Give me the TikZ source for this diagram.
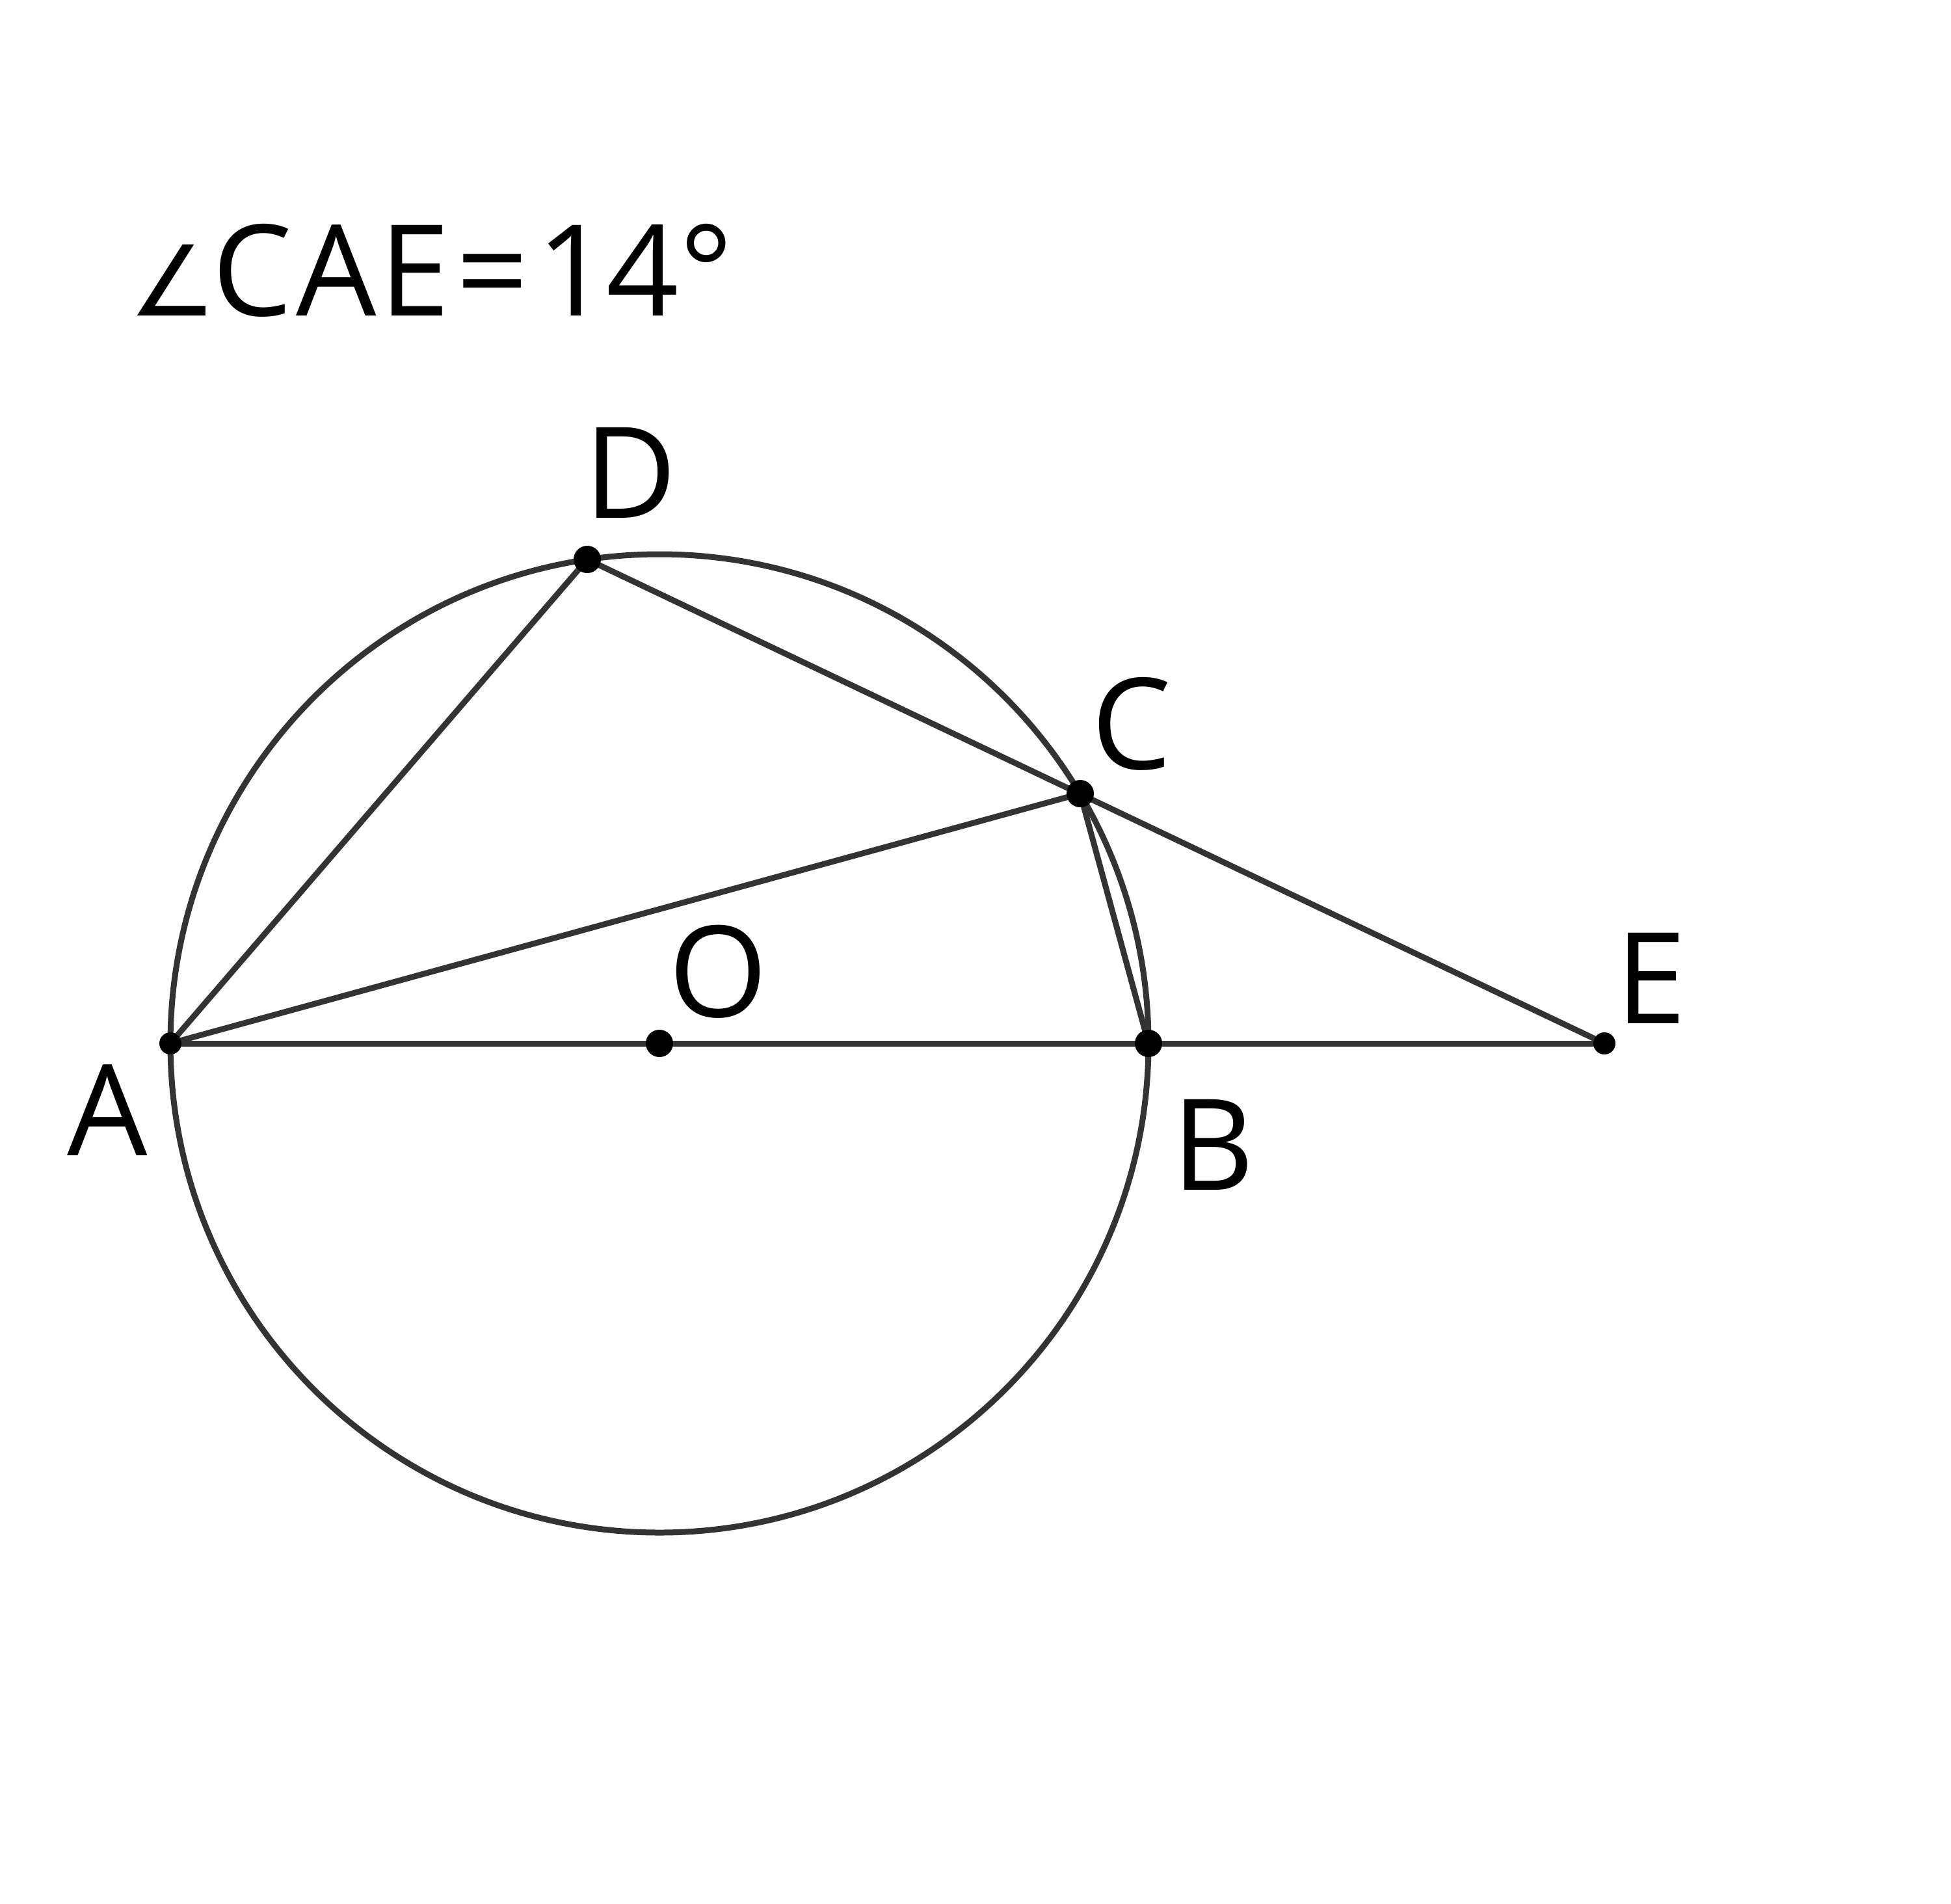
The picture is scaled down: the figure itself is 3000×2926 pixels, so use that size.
\documentclass[tikz,border=0pt]{standalone}
\usepackage{fontspec}
\setmainfont{Open Sans}
\newfontfamily\symfont{DejaVu Sans}
\begin{document}
\begin{tikzpicture}[x=1pt,y=-1pt,
  seg/.style={draw=black!80, line width=9pt},
  bigdot/.style={circle, fill=black, inner sep=0pt, minimum size=42pt},
  smalldot/.style={circle, fill=black, inner sep=0pt, minimum size=34pt},
  lbl/.style={anchor=base, inner sep=0pt, font=\fontsize{195}{234}\selectfont}]
\useasboundingbox (0,0) rectangle (3000,2926);
\coordinate (A) at (262,1604);
\coordinate (O) at (1014,1604);
\coordinate (B) at (1766,1604);
\coordinate (E) at (2467,1604);
\coordinate (C) at (1661,1220);
\coordinate (D) at (903,860);
\draw[seg] (O) circle (752);
\draw[seg] (A) -- (E);
\draw[seg] (A) -- (D);
\draw[seg] (A) -- (C);
\draw[seg] (D) -- (E);
\draw[seg] (C) -- (B);
\node[smalldot] (dA) at (A) {};
\node[bigdot] (dO) at (O) {};
\node[bigdot] (dB) at (B) {};
\node[smalldot] (dE) at (E) {};
\node[bigdot] (dC) at (C) {};
\node[bigdot] (dD) at (D) {};
\node[lbl] (lD) at (970,796) {D};
\node[lbl] (lC) at (1740,1182) {C};
\node[lbl] (lO) at (1104,1563) {O};
\node[lbl] (lA) at (165,1776) {A};
\node[lbl] (lB) at (1866,1829) {B};
\node[lbl] (lE) at (2539,1573) {E};
\node[lbl, anchor=base west] (title) at (198,485) {{\symfont\fontsize{150}{180}\selectfont ∠}\kern-6pt C\kern6pt A\kern4pt E\kern10pt=\kern12pt 1\kern-4pt 4°};
\end{tikzpicture}
\end{document}
